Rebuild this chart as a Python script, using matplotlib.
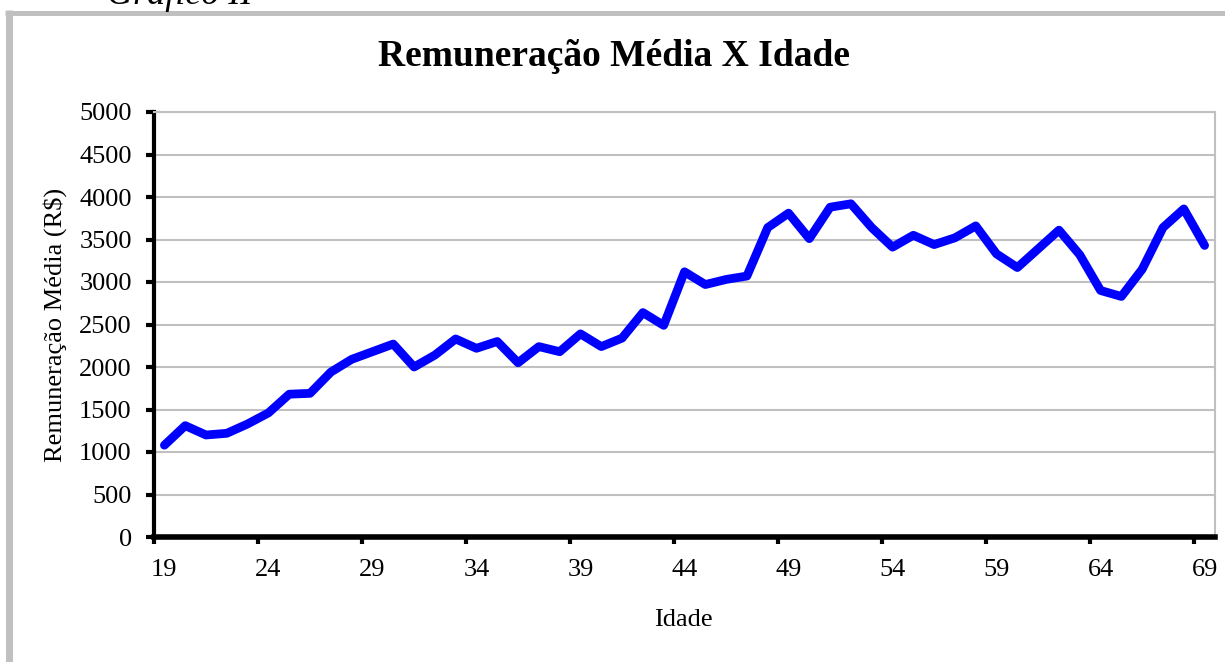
import matplotlib
matplotlib.use("Agg")
import matplotlib.pyplot as plt
from matplotlib.lines import Line2D
import numpy as np

# Data
ages = list(range(19, 70))
remuneracao = [1080, 1310, 1200, 1220, 1330, 1460, 1680, 1690, 1940, 2090,
               2180, 2270, 2000, 2140, 2330, 2220, 2300, 2050, 2240, 2180,
               2390, 2240, 2340, 2640, 2490, 3120, 2970, 3030, 3070, 3640,
               3810, 3510, 3880, 3920, 3640, 3410, 3550, 3440, 3520, 3660,
               3330, 3170, 3390, 3610, 3320, 2900, 2830, 3150, 3640, 3860,
               3430]
xtick_labels = [str(a) for a in range(19, 70, 5)]
yticks = list(range(0, 5001, 500))

title = "Remuneração Média X Idade"
ylabel = "Remuneração Média (R$)"
xlabel = "Idade"
caption = "Gráfico II"

plt.rcParams['font.family'] = ['Liberation Serif', 'DejaVu Serif']

W, H = 1225, 662
fig = plt.figure(figsize=(W / 100, H / 100), dpi=100)

# outer frame (gray)
fig.add_artist(Line2D([8.5 / W, 8.5 / W], [0, 1 - 10 / H], transform=fig.transFigure,
                      color='#c0c0c0', lw=5.0, solid_capstyle='butt'))
fig.add_artist(Line2D([5 / W, 1.0], [1 - 12.5 / H, 1 - 12.5 / H], transform=fig.transFigure,
                      color='#c0c0c0', lw=3.6, solid_capstyle='butt'))

# caption at very top (cut off in the original as well)
fig.text(180 / W, 1 - 4 / H, caption, ha='center', va='baseline', fontsize=26,
         style='italic')

left, right, top, bottom = 154, 1215, 112, 537
ax = fig.add_axes([left / W, 1 - bottom / H, (right - left) / W, (bottom - top) / H])

ax.plot(ages, remuneracao, color='#0000ff', lw=6.3, solid_joinstyle='round',
        solid_capstyle='round', zorder=3, clip_on=False)

ax.set_xlim(18.5, 69.5)
ax.set_ylim(0, 5000)

ax.set_yticks(yticks)
ax.set_yticklabels([str(v) for v in yticks])
ax.yaxis.grid(True, color='#c0c0c0', lw=1.5)
ax.set_axisbelow(True)

ax.set_xticks(list(range(19, 70, 5)))
ax.set_xticklabels(xtick_labels)
ax.set_xticks([18.5 + 5 * k for k in range(11)], minor=True)
ax.tick_params(axis='x', which='major', length=0, pad=16, labelsize=19)
ax.tick_params(axis='x', which='minor', length=5, width=3, direction='out', color='black')
ax.tick_params(axis='y', which='major', length=6, width=3, direction='out', pad=10,
               labelsize=19, color='black')

for s in ['top', 'right']:
    ax.spines[s].set_color('#c0c0c0')
    ax.spines[s].set_linewidth(1.5)
ax.spines['left'].set_color('black')
ax.spines['left'].set_linewidth(3)
ax.spines['bottom'].set_color('black')
ax.spines['bottom'].set_linewidth(4)

fig.text(614 / W, 1 - 57 / H, title, ha='center', va='center', fontsize=27,
         fontweight='bold')
fig.text(683 / W, 1 - 620 / H, xlabel, ha='center', va='center', fontsize=19)
fig.text(55 / W, 1 - 325 / H, ylabel, ha='center', va='center', fontsize=19,
         rotation=90)

fig.savefig('out.png', dpi=100)
